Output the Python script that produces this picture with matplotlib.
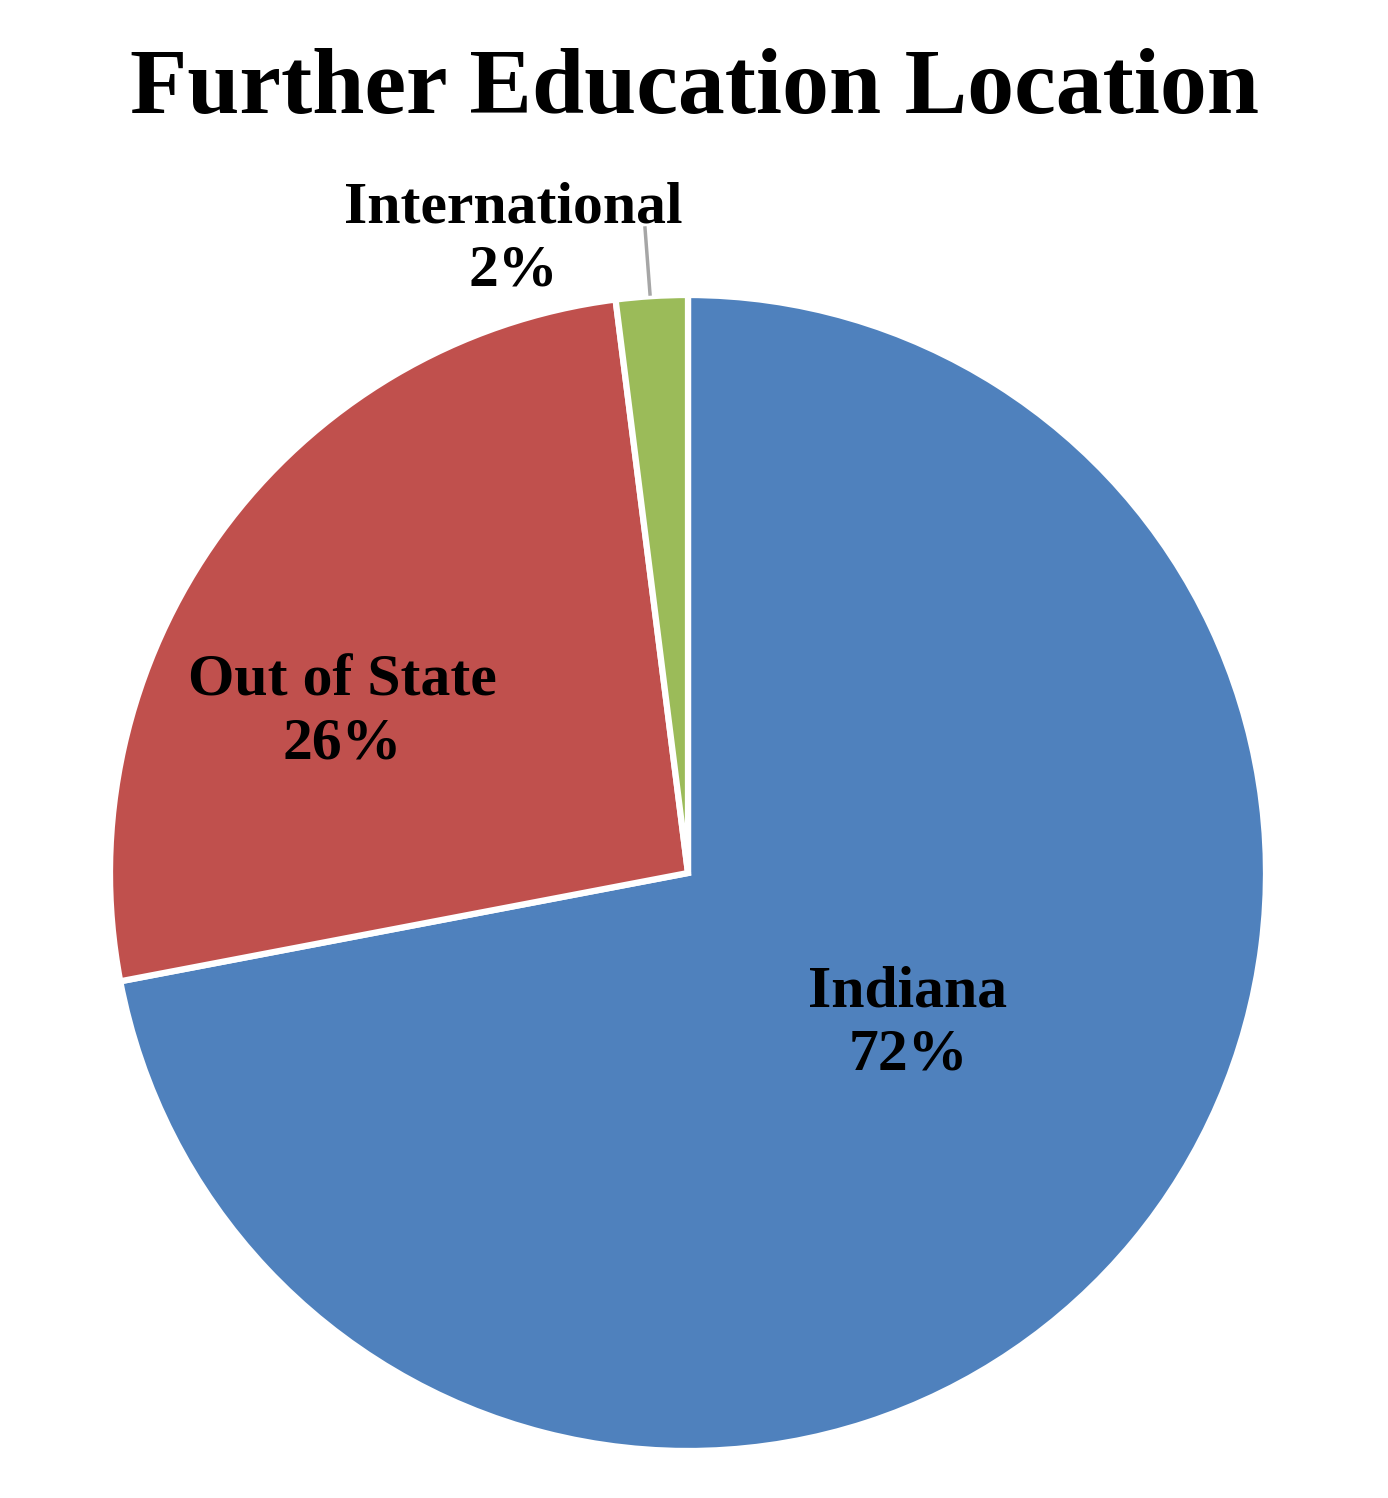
import matplotlib
matplotlib.use("Agg")
from matplotlib import pyplot as plt

# data
categories = ["Indiana", "Out of State", "International"]
shares = [72, 26, 2]
colors = ["#4F81BD", "#C0504D", "#9BBB59"]

W, H = 1388, 1498
cx, cy, r = 688, 873, 578

fig = plt.figure(figsize=(W / 100, H / 100), dpi=100)
ax = fig.add_axes([(cx - r) / W, (H - cy - r) / H, 2 * r / W, 2 * r / H])

ax.pie(shares, colors=colors, startangle=90, counterclock=False,
       wedgeprops=dict(edgecolor="white", linewidth=4.5))
ax.set_xlim(-1, 1)
ax.set_ylim(-1, 1)
ax.set_aspect("equal")
ax.axis("off")


def to_data(px, py):
    return (px - cx) / r, (cy - py) / r


font = dict(family="Liberation Serif", weight="bold", color="black")

# label spots (pixel coords from the reference)
label_px = [(908, 1024), (342, 713), (513, 240)]
for name, val, (px, py) in zip(categories, shares, label_px):
    x, y = to_data(px, py)
    ax.text(x, y, f"{name}\n{val}%", ha="center", va="center",
            fontsize=43, linespacing=1.2, **font)

# leader line for the small slice
x0, y0 = to_data(645, 228)
x1, y1 = to_data(650, 294)
ax.plot([x0, x1], [y0, y1], color="#A6A6A6", lw=2.5, clip_on=False)

fig.text(0.5, 1 - 91 / H, "Further Education Location", ha="center", va="center",
         fontsize=67.5, **font)

fig.savefig("out.png", dpi=100)
